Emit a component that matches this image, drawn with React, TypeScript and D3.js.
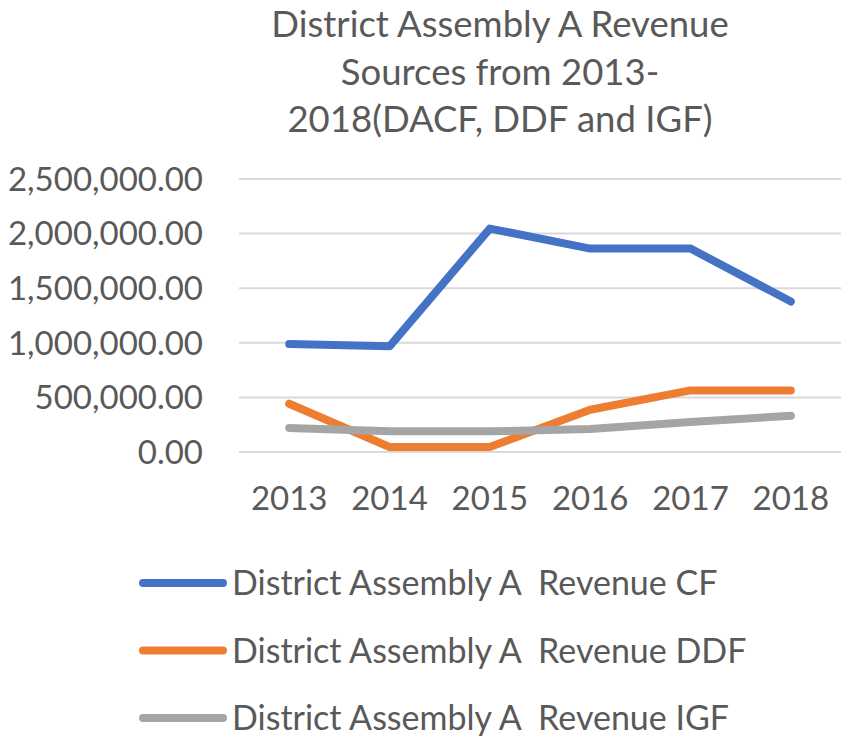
import React, { useRef, useEffect } from 'react';
import * as d3 from 'd3';

// Values
const years: string[] = ['2013', '2014', '2015', '2016', '2017', '2018'];
const revenueCF: number[] = [990000, 968000, 2046000, 1863000, 1863000, 1378000];
const revenueDDF: number[] = [442000, 46000, 46000, 387000, 564000, 564000];
const revenueIGF: number[] = [220000, 189000, 189000, 210000, 275000, 332000];
const yTicks: number[] = [0, 500000, 1000000, 1500000, 2000000, 2500000];
const titleLines: string[] = [
  'District Assembly A Revenue',
  'Sources from 2013-',
  '2018(DACF, DDF and IGF)',
];
const seriesNames: string[] = [
  'District Assembly A  Revenue CF',
  'District Assembly A  Revenue DDF',
  'District Assembly A  Revenue IGF',
];
const seriesColors: string[] = ['#4472C4', '#ED7D31', '#A5A5A5'];

const LineChart: React.FC = () => {
  const svgRef = useRef<SVGSVGElement | null>(null);
  const width = 850;
  const height = 749;

  useEffect(() => {
    if (!svgRef.current) return;

    const svg = d3.select(svgRef.current);
    svg.selectAll('*').remove();

    const font = 'Lato, "Open Sans", sans-serif';
    const textColor = '#595959';

    const plot = { left: 239, right: 841, top: 179, bottom: 452 };

    const xScale = d3
      .scaleBand()
      .domain(years)
      .range([plot.left, plot.right]);

    const yScale = d3
      .scaleLinear()
      .domain([0, 2500000])
      .range([plot.bottom, plot.top]);

    const xPos = (year: string) => (xScale(year) || 0) + xScale.bandwidth() / 2;

    // Title
    svg.append('g')
      .selectAll('text')
      .data(titleLines)
      .enter()
      .append('text')
      .attr('x', 500)
      .attr('y', (_d, i) => 37 + i * 47.5)
      .attr('text-anchor', 'middle')
      .attr('font-family', font)
      .attr('font-size', 36.5)
      .attr('fill', textColor)
      .text(d => d);

    // Gridlines
    svg.append('g')
      .selectAll('line')
      .data(yTicks)
      .enter()
      .append('line')
      .attr('x1', plot.left)
      .attr('x2', plot.right)
      .attr('y1', d => yScale(d))
      .attr('y2', d => yScale(d))
      .attr('stroke', '#D9D9D9')
      .attr('stroke-width', 2);

    // Y axis labels
    const fmt = d3.format(',.2f');
    svg.append('g')
      .selectAll('text')
      .data(yTicks)
      .enter()
      .append('text')
      .attr('x', 203)
      .attr('y', d => yScale(d))
      .attr('dy', '0.36em')
      .attr('text-anchor', 'end')
      .attr('font-family', font)
      .attr('font-size', 33)
      .attr('fill', textColor)
      .text(d => fmt(d));

    // X axis labels
    svg.append('g')
      .selectAll('text')
      .data(years)
      .enter()
      .append('text')
      .attr('x', d => xPos(d))
      .attr('y', 510)
      .attr('text-anchor', 'middle')
      .attr('font-family', font)
      .attr('font-size', 33)
      .attr('fill', textColor)
      .text(d => d);

    // Lines
    const series = [revenueCF, revenueDDF, revenueIGF];
    const line = d3
      .line<number>()
      .x((_d, i) => xPos(years[i]))
      .y(d => yScale(d));

    series.forEach((values, i) => {
      svg.append('path')
        .datum(values)
        .attr('d', line)
        .attr('fill', 'none')
        .attr('stroke', seriesColors[i])
        .attr('stroke-width', 8)
        .attr('stroke-linejoin', 'round')
        .attr('stroke-linecap', 'round');
    });

    // Legend
    const legend = svg.append('g');
    seriesNames.forEach((name, i) => {
      const y = 583 + i * 67.5;
      legend.append('line')
        .attr('x1', 143)
        .attr('x2', 223)
        .attr('y1', y)
        .attr('y2', y)
        .attr('stroke', seriesColors[i])
        .attr('stroke-width', 8)
        .attr('stroke-linecap', 'round');
      legend.append('text')
        .attr('x', 232)
        .attr('y', y)
        .attr('dy', '0.36em')
        .attr('font-family', font)
        .attr('font-size', 34)
        .attr('fill', textColor)
        .attr('xml:space', 'preserve')
        .style('white-space', 'pre')
        .text(name);
    });
  }, []);

  return (
    <div style={{ position: 'absolute', left: 0, top: 0 }}>
      <svg ref={svgRef} width={width} height={height} style={{ display: 'block', background: '#fff' }}></svg>
    </div>
  );
};

export default function App() {
  return <LineChart />;
}
